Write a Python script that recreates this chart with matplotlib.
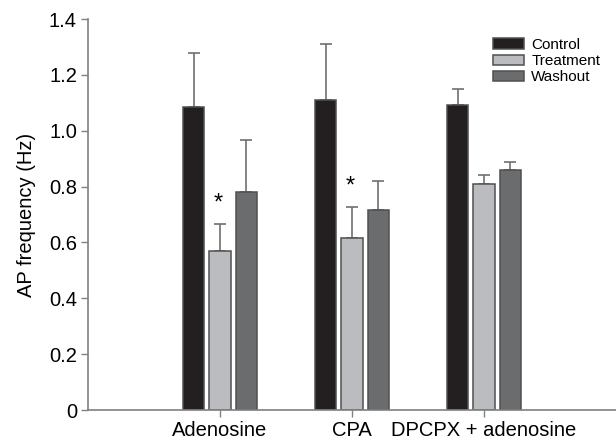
import matplotlib
matplotlib.use("Agg")
import matplotlib.pyplot as plt
import numpy as np

plt.rcParams['font.family'] = ['Liberation Sans', 'DejaVu Sans']

groups = ["Adenosine", "CPA", "DPCPX + adenosine"]
series = ["Control", "Treatment", "Washout"]
control = [1.084, 1.111, 1.091]
control_err = [0.196, 0.200, 0.058]
treatment = [0.570, 0.615, 0.809]
treatment_err = [0.096, 0.112, 0.032]
washout = [0.780, 0.716, 0.859]
washout_err = [0.187, 0.104, 0.030]
significant = [True, True, False]
colors = ["#231f20", "#bbbcbf", "#6b6c6e"]

fig = plt.figure(figsize=(6.16, 4.43), dpi=100)
ax = fig.add_axes([88/616, 33/443, 1 - 88/616, 391/443])

x = np.arange(1, len(groups) + 1)
width = 0.165
offsets = [-0.2, 0.0, 0.2]
vals = [control, treatment, washout]
errs = [control_err, treatment_err, washout_err]
for i, (name, v, e, c) in enumerate(zip(series, vals, errs, colors)):
    ax.bar(x + offsets[i], v, width, color=c, edgecolor="#505050", linewidth=1.1,
           label=name, zorder=2)
    ax.errorbar(x + offsets[i], v, yerr=[np.zeros(len(v)), e], fmt="none",
                ecolor="#707070", elinewidth=1.2, capsize=4, capthick=1.2, zorder=1)

for xi, t, te, s in zip(x, treatment, treatment_err, significant):
    if s:
        ax.text(xi - 0.01, t + te + 0.035, "*", ha="center", va="bottom", fontsize=17)

ax.set_xlim(0, 4)
ax.set_ylim(0, 1.4)
ax.set_yticks([0, 0.2, 0.4, 0.6, 0.8, 1.0, 1.2, 1.4])
ax.set_yticklabels(["0", "0.2", "0.4", "0.6", "0.8", "1.0", "1.2", "1.4"], fontsize=14.5)
ax.set_xticks(x)
ax.set_xticklabels(groups, fontsize=14.5)
ax.set_ylabel("AP frequency (Hz)", fontsize=14.5, labelpad=9)

for sp in ["top", "right"]:
    ax.spines[sp].set_visible(False)
for sp in ["left", "bottom"]:
    ax.spines[sp].set_color("#808080")
    ax.spines[sp].set_linewidth(1.2)
ax.tick_params(axis="y", length=5, width=1, color="#808080", pad=3)
ax.tick_params(axis="x", length=5, width=1, color="#808080", pad=3)

ax.legend(loc="upper left", bbox_to_anchor=(0.767, 0.952), frameon=False, fontsize=11,
          handlelength=2.0, handleheight=0.65, labelspacing=0.15, handletextpad=0.5,
          borderaxespad=0, borderpad=0)

fig.savefig("out.png", dpi=100)
